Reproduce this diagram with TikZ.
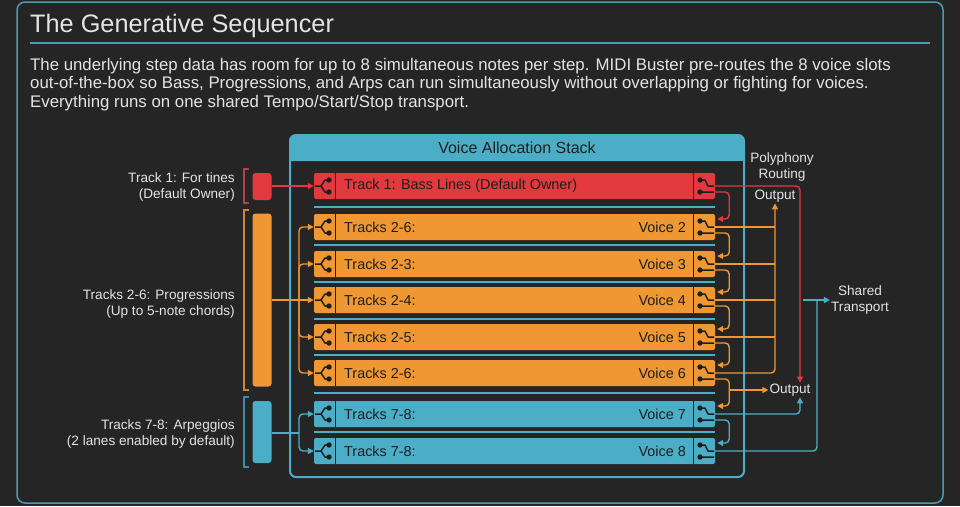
\documentclass[tikz,border=0pt]{standalone}
\usepackage{fontspec}
\setmainfont{Liberation Sans}
\usetikzlibrary{arrows.meta,calc}
\definecolor{bg}{HTML}{252525}
\definecolor{tl}{HTML}{4CAEC6}
\definecolor{frame}{HTML}{4A9DB2}
\definecolor{org}{HTML}{EE9733}
\definecolor{rd}{HTML}{E2393E}
\definecolor{txt}{HTML}{E4E4E4}
\definecolor{dk}{HTML}{1E1E1E}
\definecolor{brd}{HTML}{B0434C}
\definecolor{bor}{HTML}{C98936}
\definecolor{btl}{HTML}{3E8EA3}
\begin{document}
\begin{tikzpicture}[x=1pt,y=-1pt,
  rowbox/.style={rounded corners=2pt, minimum width=401pt, minimum height=26pt, inner sep=0pt, draw=none},
  bar/.style={rounded corners=3pt, minimum width=19pt, inner sep=0pt, draw=none},
  rowtxt/.style={text=dk, font=\fontsize{14.4}{16}\selectfont, inner sep=0pt},
  lbl/.style={text=txt, font=\fontsize{13.6}{16}\selectfont, inner sep=1pt},
  ico/.style={dk, line width=1.5pt, line join=round},
  conn/.style={line width=1.4pt, rounded corners=4pt},
  arr/.style={conn, -{Triangle[length=6pt,width=6pt]}},
  brk/.style={line width=1.2pt}
]
\useasboundingbox (0,0) rectangle (960,506);
\fill[bg] (0,0) rectangle (960,506);
% outer frame
\draw[frame, line width=1.5pt, rounded corners=8pt] (17,2) rectangle (943,503);
\node[anchor=base west, text=txt, font=\fontsize{25.3}{30}\selectfont, inner sep=0pt] (title) at (30,32) {The Generative Sequencer};
\draw[frame, line width=1.8pt] (30,43) -- (930,43);
\node[anchor=base west, text=txt, font=\fontsize{16.8}{19}\selectfont, inner sep=0pt] (p1) at (30,70) {The underlying step data has room for up to 8 simultaneous notes per step. MIDI Buster pre-routes the 8 voice slots};
\node[anchor=base west, text=txt, font=\fontsize{16.8}{19}\selectfont, inner sep=0pt] (p2) at (30,88.5) {out-of-the-box so Bass, Progressions, and Arps can run simultaneously without overlapping or fighting for voices.};
\node[anchor=base west, text=txt, font=\fontsize{16.8}{19}\selectfont, inner sep=0pt] (p3) at (30,107) {Everything runs on one shared Tempo/Start/Stop transport.};

% Voice allocation stack box
\fill[tl, rounded corners=6pt] (290,135) rectangle (744,161);
\fill[tl] (290,150) rectangle (744,161);
\draw[tl, line width=2pt, rounded corners=6pt] (290,135) rectangle (744,477);
\node[text=dk, font=\fontsize{16}{18}\selectfont] (vas) at (517,148) {Voice Allocation Stack};

% separators
\foreach \s in {207,245,282,319,355,393,432}
  \draw[tl, line width=2pt] (314,\s) -- (715,\s);

% rows
\node[rowbox, fill=rd]  (r1) at (514.5,186) {};
\node[rowbox, fill=org] (r2) at (514.5,227) {};
\node[rowbox, fill=org] (r3) at (514.5,264) {};
\node[rowbox, fill=org] (r4) at (514.5,300) {};
\node[rowbox, fill=org] (r5) at (514.5,337) {};
\node[rowbox, fill=org] (r6) at (514.5,373) {};
\node[rowbox, fill=tl]  (r7) at (514.5,414) {};
\node[rowbox, fill=tl]  (r8) at (514.5,451) {};

\node[rowtxt, anchor=west] (t1) at (344,186) {Track 1: Bass Lines (Default Owner)};
\node[rowtxt, anchor=west] (t2) at (344,227) {Tracks 2-6:};
\node[rowtxt, anchor=west] (t3) at (344,264) {Tracks 2-3:};
\node[rowtxt, anchor=west] (t4) at (344,300) {Tracks 2-4:};
\node[rowtxt, anchor=west] (t5) at (344,337) {Tracks 2-5:};
\node[rowtxt, anchor=west] (t6) at (344,373) {Tracks 2-6:};
\node[rowtxt, anchor=west] (t7) at (344,414) {Tracks 7-8:};
\node[rowtxt, anchor=west] (t8) at (344,451) {Tracks 7-8:};
\node[rowtxt, anchor=east] (v2) at (686,227) {Voice 2};
\node[rowtxt, anchor=east] (v3) at (686,264) {Voice 3};
\node[rowtxt, anchor=east] (v4) at (686,300) {Voice 4};
\node[rowtxt, anchor=east] (v5) at (686,337) {Voice 5};
\node[rowtxt, anchor=east] (v6) at (686,373) {Voice 6};
\node[rowtxt, anchor=east] (v7) at (686,414) {Voice 7};
\node[rowtxt, anchor=east] (v8) at (686,451) {Voice 8};

% icons and dividers
\foreach \c in {186,227,264,300,337,373,414,451} {
  \draw[dk, line width=1pt] (335,\c-13) -- (335,\c+13) (693,\c-13) -- (693,\c+13);
  \draw[ico] (315,\c) -- (321,\c) -- (325,\c-6) -- (329,\c-6)
             (321,\c) -- (325,\c+6) -- (329,\c+6);
  \fill[dk] (329,\c-6) circle[radius=2.7pt] (329,\c+6) circle[radius=2.7pt];
  \draw[ico] (700,\c-6) -- (705,\c-6) -- (708,\c) -- (714,\c)
             (700,\c+6) -- (714,\c+6);
  \fill[dk] (700,\c-6) circle[radius=2.7pt] (700,\c+6) circle[radius=2.7pt];
}

% left bars and brackets
\node[bar, fill=rd, minimum height=27pt] (b1) at (262,186.5) {};
\node[bar, fill=org, minimum height=173pt] (b2) at (262,300) {};
\node[bar, fill=tl, minimum height=62pt] (b3) at (262,432) {};
\draw[brk, brd] (249,169) -- (244,169) -- (244,203) -- (249,203);
\draw[brk, bor] (249,210) -- (244,210) -- (244,390) -- (249,390);
\draw[brk, btl] (249,397) -- (244,397) -- (244,467) -- (249,467);

\node[lbl, anchor=east, align=right] (l1) at (236,187) {Track 1: For tines\\(Default Owner)};
\node[lbl, anchor=east, align=right] (l2) at (236,304) {Tracks 2-6: Progressions\\(Up to 5-note chords)};
\node[lbl, anchor=east, align=right] (l3) at (236,434) {Tracks 7-8: Arpeggios\\(2 lanes enabled by default)};

% left connectors
\draw[arr, rd] (b1.east |- r1.west) -- (r1.west);
\draw[arr, org] (b2.east |- r4.west) -- (r4.west);
\coordinate (ov) at (299,300);
\foreach \r in {r2,r3,r5,r6} \draw[arr, org] (ov) |- (\r.west);
\coordinate (tv) at (299,433);
\draw[conn, tl] (b3.east |- tv) -- (tv);
\draw[arr, tl] (tv) |- (r7.west);
\draw[arr, tl] (tv) |- (r8.west);

% right labels
\node[lbl, align=center] (poly) at (782,167) {Polyphony\\Routing};
\node[lbl] (oU) at (775,196) {Output};
\node[lbl] (oL) at (790,390) {Output};
\node[lbl, align=center] (st) at (860,300) {Shared\\Transport};

% loops between rows
\draw[arr, rd]  ([yshift=-6pt]r1.east) -- ++(14,0) |- ([yshift=8pt,xshift=2pt]r2.east);
\draw[arr, org] ([yshift=-6pt]r2.east) -- ++(14,0) |- ([yshift=8pt,xshift=2pt]r3.east);
\draw[arr, org] ([yshift=-6pt]r3.east) -- ++(14,0) |- ([yshift=8pt,xshift=2pt]r4.east);
\draw[arr, org] ([yshift=-6pt]r4.east) -- ++(14,0) |- ([yshift=8pt,xshift=2pt]r5.east);
\draw[arr, org] ([yshift=-6pt]r5.east) -- ++(14,0) |- ([yshift=8pt,xshift=2pt]r6.east);
\draw[arr, org] ([yshift=-6pt]r6.east) -- ++(14,0) |- ([yshift=8pt,xshift=2pt]r7.east);
\draw[arr, tl]  ([yshift=-6pt]r7.east) -- ++(14,0) |- ([yshift=8pt,xshift=2pt]r8.east);
\draw[arr, org] ([xshift=14pt]r6.east |- oL.west) -- (oL.west);

% outputs
\draw[arr, org] (r6.east) -| (oU.south);
\foreach \r in {r2,r3,r4,r5} \draw[conn, org] (\r.east) -- (\r.east -| oU.south);
\draw[arr, rd] (r1.east) -| ([xshift=10pt]oL.north);
\draw[arr, tl] (r7.east) -| ([xshift=10pt]oL.south);
\coordinate (tj) at (817,300);
\coordinate (ts) at (803,300);
\draw[conn, tl] (r8.east) -| (tj);
\draw[arr, tl] (ts) -- (st.west);
\end{tikzpicture}
\end{document}
